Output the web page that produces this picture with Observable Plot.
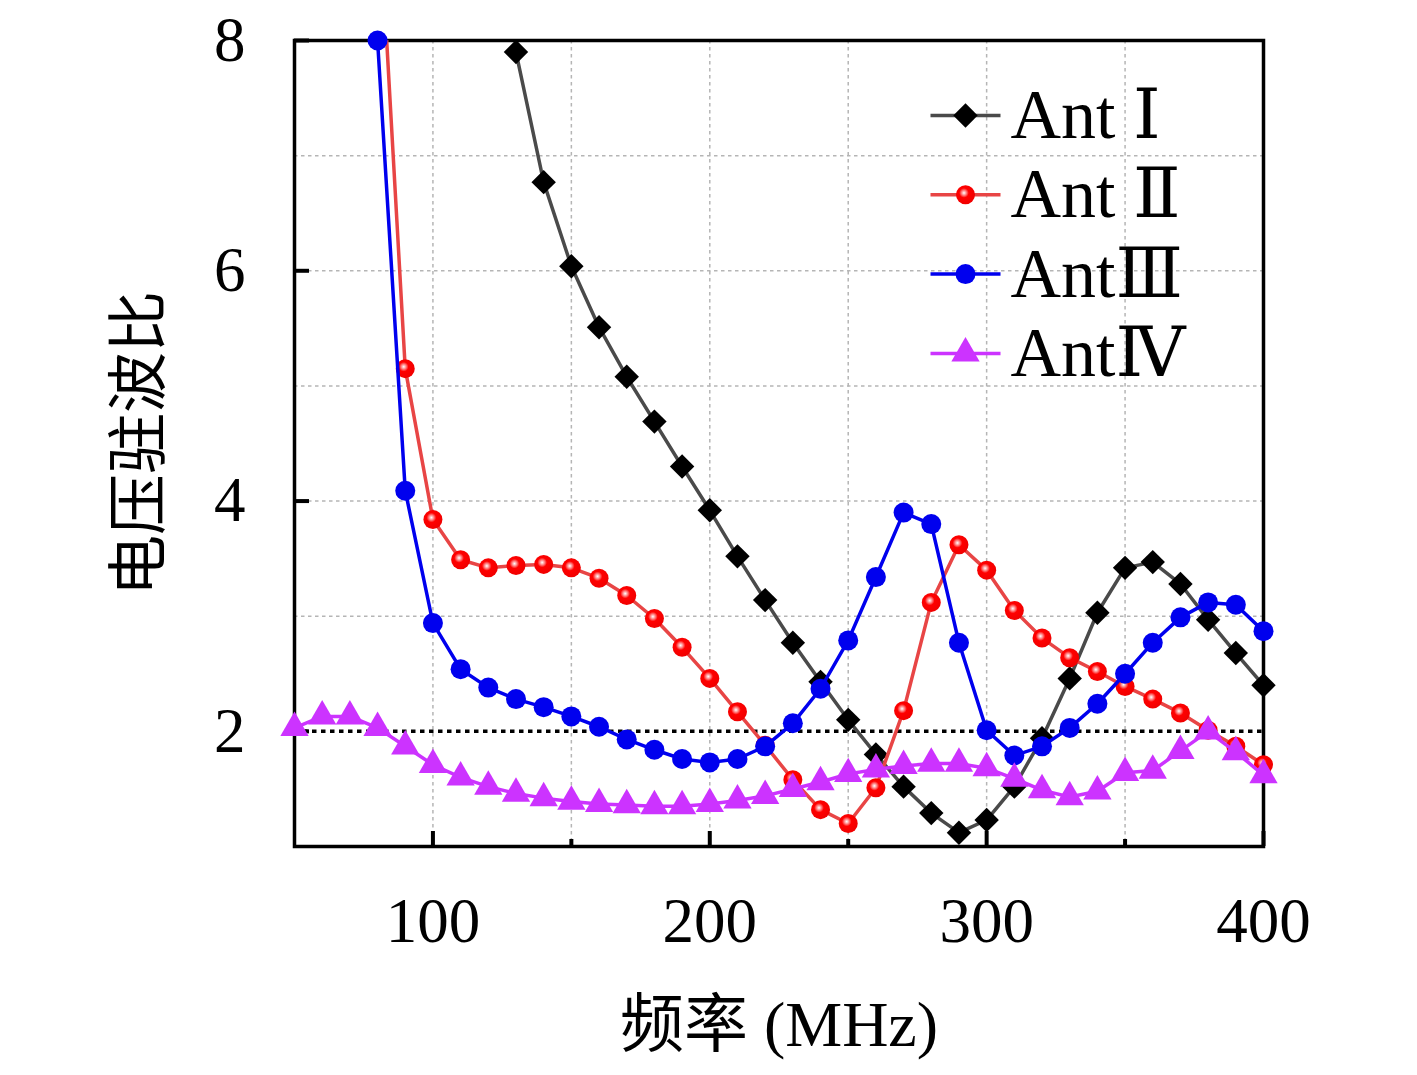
<!DOCTYPE html>
<html>
<head>
<meta charset="utf-8">
<script src="https://cdn.jsdelivr.net/npm/d3@7"></script>
<script src="https://cdn.jsdelivr.net/npm/@observablehq/plot@0.6"></script>
<style>
  body { margin: 0; background: #fff; }
</style>
</head>
<body>
<div id="chart"></div>
<script>
// ---- data ----
const freq = [50, 60, 70, 80, 90, 100, 110, 120, 130, 140, 150, 160, 170, 180, 190, 200, 210, 220,
              230, 240, 250, 260, 270, 280, 290, 300, 310, 320, 330, 340, 350, 360, 370, 380, 390, 400];
const antI = [null, null, null, null, null, null, null, null,
              7.90, 6.77, 6.04, 5.51, 5.08, 4.69, 4.30, 3.92, 3.52, 3.14,
              2.77, 2.43, 2.10, 1.80, 1.52, 1.29, 1.12, 1.23, 1.52, 1.94, 2.46, 3.03, 3.42, 3.47, 3.28, 2.97, 2.68, 2.40];
const antII = [null, null, null, 9.4, 5.15, 3.84, 3.49, 3.42, 3.44, 3.45, 3.42, 3.33, 3.18, 2.98, 2.73, 2.46, 2.17, 1.88,
               1.58, 1.32, 1.20, 1.51, 2.18, 3.12, 3.62, 3.40, 3.05, 2.81, 2.64, 2.52, 2.39, 2.28, 2.16, 2.01, 1.87, 1.71];
const antIII = [null, null, null, 8.0, 4.09, 2.94, 2.54, 2.38, 2.28, 2.21, 2.13, 2.04, 1.93, 1.84, 1.76, 1.73, 1.76, 1.87,
                2.07, 2.37, 2.79, 3.34, 3.90, 3.80, 2.77, 2.01, 1.79, 1.87, 2.03, 2.24, 2.50, 2.77, 2.99, 3.12, 3.10, 2.87];
const antIV = [2.03, 2.13, 2.13, 2.03, 1.87, 1.71, 1.60, 1.52, 1.46, 1.42, 1.39, 1.37, 1.36, 1.35, 1.35, 1.37, 1.40, 1.44,
               1.50, 1.56, 1.63, 1.67, 1.70, 1.72, 1.72, 1.68, 1.59, 1.49, 1.43, 1.48, 1.64, 1.66, 1.83, 2.00, 1.82, 1.62];
const seriesNames = ["Ant Ⅰ", "Ant Ⅱ", "AntⅢ", "AntⅣ"];
const xTicks = [100, 200, 300, 400];
const xMinorTicks = [150, 250, 350];
const yTicks = [2, 4, 6, 8];
const xGrid = [100, 150, 200, 250, 300, 350];
const yGrid = [3, 4, 5, 6, 7];
const refLevel = [2];
const xLabel = "频率 (MHz)";
const yLabel = "电压驻波比";

// ---- layout / style ----
const W = 1417, H = 1075;
const mL = 294, mR = 154, mT = 40, mB = 229;
const frameW = W - mL - mR, frameH = H - mT - mB;
const yMax = 8;
const font = "'Liberation Serif','DejaVu Serif','Noto Sans CJK SC',serif";

const styles = [
  {line: "#4a4a4a", fill: "#000000", symbol: "diamond2", r: 11},
  {line: "#e84545", fill: "url(#redball)", symbol: "circle", r: 9.5},
  {line: "#0000ee", fill: "#0000ee", symbol: "circle", r: 10},
  {line: "#cc33ff", fill: "#cc33ff", symbol: "triangle", r: 10.5}
];
const seriesValues = [antI, antII, antIII, antIV];
const rows = vals => freq.map((f, i) => ({f, v: vals[i]})).filter(d => d.v != null);

const hline = {draw(ctx) { ctx.moveTo(-35, 0); ctx.lineTo(35, 0); }};

const defsMark = () => {
  const ns = "http://www.w3.org/2000/svg";
  const defs = document.createElementNS(ns, "defs");
  defs.innerHTML =
    '<radialGradient id="redball" cx="0.42" cy="0.40" r="0.6">' +
    '<stop offset="0" stop-color="#ffffff"/>' +
    '<stop offset="0.22" stop-color="#ff8080"/>' +
    '<stop offset="0.42" stop-color="#ff0000"/>' +
    '<stop offset="1" stop-color="#f00000"/>' +
    '</radialGradient>';
  return defs;
};

const seriesMarks = [];
seriesValues.forEach((vals, i) => {
  const s = styles[i];
  const data = rows(vals);
  seriesMarks.push(Plot.line(data, {x: "f", y: "v", stroke: s.line, strokeWidth: 3.5, clip: true}));
  seriesMarks.push(Plot.dot(data.filter(d => d.v <= yMax + 0.05), {
    x: "f", y: "v", symbol: s.symbol, r: s.r, fill: s.fill, stroke: "none"
  }));
});

const legendMarks = [];
seriesNames.forEach((name, i) => {
  const s = styles[i];
  const dy = 75 + i * 79.3;
  legendMarks.push(Plot.dot([name], {frameAnchor: "top-left", dx: 671, dy, symbol: hline, r: 5,
    fill: "none", stroke: s.line, strokeWidth: 3.5}));
  legendMarks.push(Plot.dot([name], {frameAnchor: "top-left", dx: 671, dy, symbol: s.symbol, r: s.r,
    fill: s.fill, stroke: "none"}));
  legendMarks.push(Plot.text([name], {text: d => d, frameAnchor: "top-left", dx: 716, dy,
    textAnchor: "start", lineAnchor: "middle", fontSize: 70, fill: "#000"}));
});

const chart = Plot.plot({
  width: W, height: H,
  marginLeft: mL, marginRight: mR, marginTop: mT, marginBottom: mB,
  style: {fontFamily: font, background: "#fff", color: "#000"},
  x: {domain: [50, 400]},
  y: {domain: [1, 8]},
  marks: [
    defsMark,
    Plot.ruleX(xGrid, {x: d => d, stroke: "#b5b5b5", strokeWidth: 1.5, strokeDasharray: "3.5,3.5"}),
    Plot.ruleY(yGrid, {y: d => d, stroke: "#b5b5b5", strokeWidth: 1.5, strokeDasharray: "3.5,3.5"}),
    Plot.ruleY(refLevel, {y: d => d, stroke: "#000", strokeWidth: 3.5, strokeDasharray: "4.5,4.5"}),
    Plot.frame({stroke: "#000", strokeWidth: 3.5}),
    Plot.tickX(xTicks, {x: d => d, insetTop: frameH - 15, stroke: "#000", strokeWidth: 4}),
    Plot.tickX(xMinorTicks, {x: d => d, insetTop: frameH - 7, stroke: "#000", strokeWidth: 4}),
    Plot.tickY(yTicks, {y: d => d, insetRight: frameW - 15, stroke: "#000", strokeWidth: 4}),
    ...seriesMarks,
    ...legendMarks,
    Plot.axisX(xTicks, {tickSize: 0, tickPadding: 51, fontSize: 63, label: null, tickFormat: d3.format("d")}),
    Plot.axisY(yTicks, {tickSize: 0, tickPadding: 49, fontSize: 63, label: null, tickFormat: d3.format("d")}),
    Plot.text([xLabel], {text: d => d, frameAnchor: "bottom", dy: 179, lineAnchor: "middle", fontSize: 64}),
    Plot.text([yLabel], {text: d => d, frameAnchor: "left", dx: -154, rotate: -90,
      textAnchor: "middle", lineAnchor: "middle", fontSize: 61})
  ]
});
document.getElementById("chart").appendChild(chart);
</script>
</body>
</html>
